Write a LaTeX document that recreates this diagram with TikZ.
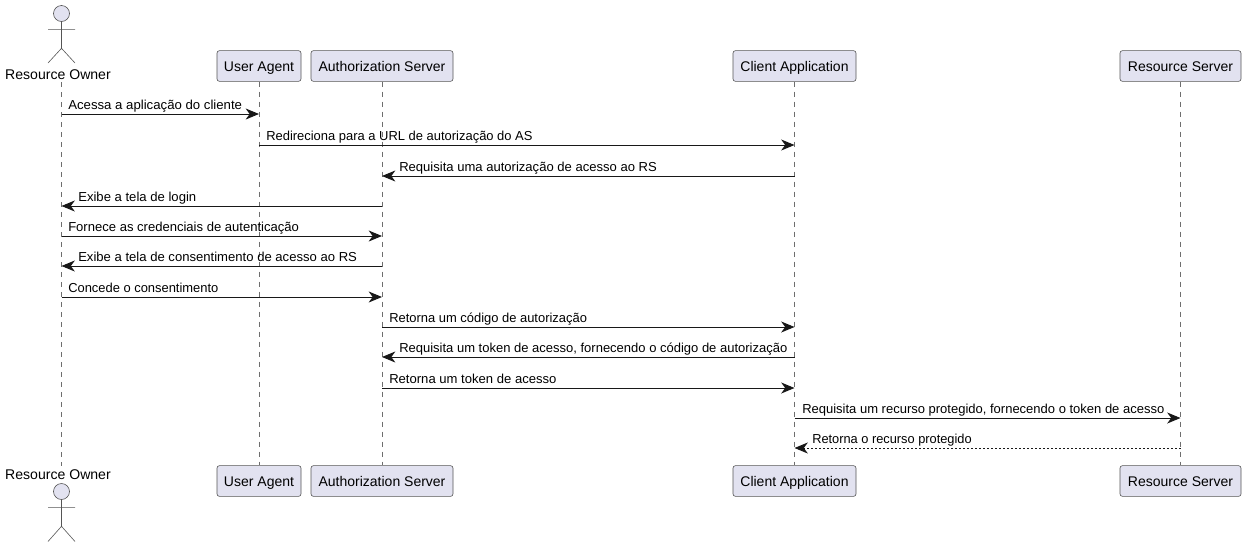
\documentclass[tikz,border=0pt]{standalone}
\usepackage{fontspec}
\setmainfont{Liberation Sans}
\usetikzlibrary{arrows.meta}
\definecolor{partfill}{HTML}{E2E2F0}
\definecolor{ink}{HTML}{181818}
\definecolor{edge}{HTML}{555555}
\definecolor{lifeln}{HTML}{6E6E6E}
\tikzset{
  x=0.75pt,y=-0.75pt,
  partbox/.style={draw=edge,line width=0.45pt,fill=partfill,rounded corners=1.8pt,inner sep=0pt,text height=8.25pt,text depth=0pt,minimum height=23pt,font=\fontsize{10.5pt}{12pt}\selectfont},
  actorlabel/.style={inner sep=0pt,anchor=base,font=\fontsize{10.55pt}{12pt}\selectfont},
  actorhead/.style={circle,draw=edge,line width=0.45pt,fill=partfill,inner sep=0pt,minimum size=12pt},
  actorlimb/.style={draw=edge,line width=0.45pt},
  lifeline/.style={draw=lifeln,line width=0.45pt,dash pattern=on 3.75pt off 3.75pt},
  msgline/.style={draw=ink,line width=0.75pt,-{Stealth[length=10pt,width=8.25pt,inset=3pt]}},
  replyline/.style={msgline,dash pattern=on 1.5pt off 1.5pt},
  msglabel/.style={inner sep=0pt,anchor=base west,font=\fontsize{9.75pt}{11pt}\selectfont},
}
\newcommand{\partpair}[5]{% name, xmin, xmax, centre, text
  \node[partbox,minimum width=#3*0.75pt-#2*0.75pt] (#1top) at (#4,66) {#5};
  \node[partbox,minimum width=#3*0.75pt-#2*0.75pt] (#1bot) at (#4,481) {#5};
}
\newcommand{\msg}[7][msgline]{% style, from, to, y, label x, x-stretch, text
  \path (#2top.south |- 0,#4) coordinate (f) (#3top.south |- 0,#4) coordinate (t);
  \draw[#1] (f) -- (t);
  \node[msglabel] at (#5,#4-4.3) {\scalebox{#6}[1]{#7}};
}
\begin{document}
\begin{tikzpicture}
\useasboundingbox (0,0) rectangle (1246,547);
\partpair{ua}{217}{301}{259}{User Agent}
\partpair{as}{311}{453}{382}{Authorization Server}
\partpair{ca}{733}{856}{794.5}{Client Application}
\partpair{rs}{1120}{1241}{1180.5}{Resource Server}
% actor anchors for the lifeline
\coordinate (rotop) at (61.5,82);
\coordinate (robot) at (61.5,466);
% lifelines
\draw[lifeline] (rotop) -- (robot);
\foreach \p in {ua,as,ca,rs}{\draw[lifeline] (\p top.south) -- (\p bot.north);}
% actors
\node[actorlabel] (rolabeltop) at (58,79.7) {Resource Owner};
\node[actorlabel] (rolabelbot) at (58,479.7) {Resource Owner};
\node[actorhead] (headtop) at (61.5,13.5) {};
\node[actorhead] (headbot) at (61.5,491.5) {};
\draw[actorlimb] (headtop.south) -- (61.5,48.3) (48,29.3) -- (75,29.3)
  (48,63) -- (61.5,48.3) -- (75,63);
\draw[actorlimb] (headbot.south) -- (61.5,526.3) (48,507.3) -- (75,507.3)
  (48,541.5) -- (61.5,526.3) -- (75,541.5);
% messages
\msg{ro}{ua}{114}{68}{1.015}{Acessa a aplicação do cliente}
\msg{ua}{ca}{145}{266}{0.996}{Redireciona para a URL de autorização do AS}
\msg{ca}{as}{176}{399}{1.004}{Requisita uma autorização de acesso ao RS}
\msg{as}{ro}{206}{78}{1.008}{Exibe a tela de login}
\msg{ro}{as}{236}{68}{1.004}{Fornece as credenciais de autenticação}
\msg{as}{ro}{266}{78}{1.007}{Exibe a tela de consentimento de acesso ao RS}
\msg{ro}{as}{297}{68}{0.994}{Concede o consentimento}
\msg{as}{ca}{327}{389}{0.995}{Retorna um código de autorização}
\msg{ca}{as}{357}{399}{1.0}{Requisita um token de acesso, fornecendo o código de autorização}
\msg{as}{ca}{388}{389}{1.006}{Retorna um token de acesso}
\msg{ca}{rs}{418}{802}{1.0}{Requisita um recurso protegido, fornecendo o token de acesso}
\msg[replyline]{rs}{ca}{448}{812}{0.985}{Retorna o recurso protegido}
\end{tikzpicture}
\end{document}
